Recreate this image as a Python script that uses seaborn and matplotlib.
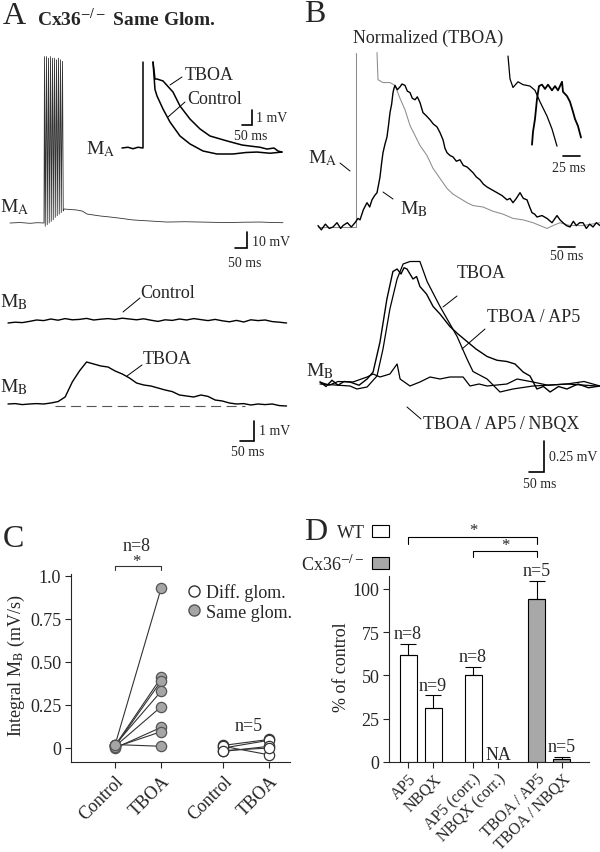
import numpy as np
import pandas as pd
import matplotlib
matplotlib.use('Agg')
import matplotlib.pyplot as plt
from matplotlib.lines import Line2D
from matplotlib.patches import Patch
import seaborn as sns

W, H = 600, 853

# ── A: M_A burst, ms / mV relative to rest ─────────────────────
a_pre = [(0, 0.0), (40, 0.3), (80, -0.2), (110, 0.2), (136, 0.0)]
a_spike_t = [138, 146, 154, 162, 170, 178, 186, 194, 202, 210]
a_spike_peak = [104, 104, 103, 104, 103, 103, 102, 103, 102, 101]
a_spike_trough = [-2, -1, 0, 1, 2, 3.5, 4.5, 5.5, 6.5, 7.5]
a_post = [(216, 8.75), (268, 8.1), (290, 7.4), (308, 5.6), (360, 4.4), (400, 3.75),
          (440, 3.0), (492, 1.9), (560, 1.25), (628, 0.6), (700, 0.8), (760, 0.6),
          (820, 0.4), (880, 0.3), (940, 0.5), (1000, 0.6), (1050, 0.3), (1092, 0.2)]

# ── A inset: M_A after-depolarisation (1 mV scale) ─────────────
a_ins_base = [(0, 0.0), (30, 0.05), (55, -0.05), (80, 0.05), (105, 0.0), (105, 5.73)]
a_ins_tboa = [(155, 5.73), (165, 4.6), (175, 4.6), (205, 4.47), (255, 3.73), (290, 2.8),
              (340, 1.93), (390, 1.27), (440, 0.8), (525, 0.47), (600, 0.2), (640, 0.13),
              (690, 0.05), (725, -0.07), (760, 0.0), (780, -0.2), (800, -0.27)]
a_ins_ctrl = [(155, 5.73), (165, 3.9), (175, 3.47), (205, 2.6), (240, 1.73), (290, 0.8),
              (340, 0.27), (405, -0.2), (475, -0.4), (555, -0.4), (620, -0.3),
              (675, -0.27), (740, -0.35), (800, -0.27)]

# ── A: M_B, sampled every 25 ms ─────────────────────────────────
a_mb_dt = 25
a_mb_ctrl = [-0.10, -0.06, -0.08, -0.02, 0.05, 0.02, 0.10, 0.04, 0.12, 0.06,
             0.08, 0.13, 0.05, 0.09, 0.12, 0.08, 0.14, 0.10, 0.06, 0.11,
             0.04, -0.02, 0.06, 0.03, 0.10, 0.05, 0.12, 0.07, 0.02, 0.08,
             0.01, -0.04, 0.03, -0.05, 0.06, 0.02, 0.05, -0.03, -0.06, -0.10]
a_mb_tboa = [0.0, 0.02, -0.03, 0.0, 0.02, 0.0, 0.05, 0.12, 0.35, 1.1,
             1.65, 2.1, 2.0, 1.9, 1.85, 1.65, 1.5, 1.3, 1.05, 0.95,
             0.9, 0.8, 0.7, 0.62, 0.45, 0.4, 0.35, 0.45, 0.38, 0.2,
             0.15, 0.05, 0.0, 0.02, -0.05, 0.0, -0.03, 0.0, -0.08, -0.1]
a_mb_dash = [165, 830]

# ── B: normalized traces (TBOA) ────────────────────────────────
b_ma_pre = [(0, 0.0), (114, 0.0), (114, 1.22)]
b_ma = [(177, 1.22), (180, 1.03), (195, 1.01), (216, 1.01), (231, 0.99), (246, 0.90),
        (261, 0.82), (276, 0.71), (291, 0.64), (306, 0.57), (327, 0.50), (345, 0.41),
        (366, 0.34), (387, 0.27), (405, 0.23), (426, 0.20), (447, 0.17), (465, 0.15),
        (495, 0.14), (525, 0.11), (555, 0.09), (585, 0.06), (615, 0.05), (645, 0.03),
        (666, 0.01), (687, -0.01), (705, 0.01), (726, 0.03), (756, 0.01), (795, 0.01),
        (846, 0.03)]
b_mb = [(0, 0.01), (10, -0.02), (22, 0.02), (34, -0.01), (45, 0.0), (57, 0.03),
        (68, -0.01), (75, 0.01), (88, 0.03), (100, 0.0), (111, 0.03), (120, 0.06),
        (126, 0.05), (136, 0.12), (147, 0.17), (155, 0.14), (162, 0.19), (170, 0.22),
        (177, 0.24), (182, 0.30), (186, 0.35), (191, 0.45), (195, 0.52), (201, 0.58),
        (207, 0.63), (212, 0.72), (216, 0.80), (221, 0.86), (225, 0.94), (228, 0.97),
        (231, 0.99), (238, 0.96), (246, 0.98), (252, 1.0), (261, 0.99), (268, 0.95),
        (276, 0.94), (283, 0.90), (291, 0.89), (298, 0.91), (306, 0.87), (311, 0.83),
        (315, 0.80), (324, 0.78), (336, 0.75), (346, 0.72), (357, 0.70), (366, 0.66),
        (375, 0.61), (381, 0.55), (387, 0.52), (396, 0.50), (405, 0.49), (415, 0.46),
        (426, 0.47), (436, 0.43), (447, 0.42), (456, 0.40), (465, 0.38), (475, 0.35),
        (486, 0.33), (496, 0.30), (507, 0.28), (522, 0.26), (537, 0.24), (552, 0.22),
        (567, 0.19), (576, 0.20), (585, 0.17), (595, 0.20), (606, 0.24), (616, 0.20),
        (627, 0.19), (635, 0.14), (642, 0.10), (650, 0.09), (657, 0.07), (672, 0.08),
        (687, 0.06), (702, 0.03), (717, 0.08), (726, 0.05), (735, 0.03), (745, 0.01),
        (756, 0.0), (766, 0.04), (775, 0.01), (785, 0.03), (795, 0.03), (805, -0.01),
        (815, 0.02), (825, 0.0), (835, 0.03), (846, 0.01)]
b_ins_ma = [(12, 0.72), (15, 0.56), (19.5, 0.50), (27, 0.54), (34.5, 0.52), (45, 0.51),
            (52.5, 0.48), (60, 0.40), (70.5, 0.30), (78, 0.21), (85.5, 0.09)]
b_ins_mb = [(48, 0.10), (49.5, 0.19), (52.5, 0.28), (55.5, 0.42), (58.5, 0.51), (63, 0.52),
            (67.5, 0.49), (72, 0.52), (78, 0.48), (82.5, 0.51), (87, 0.48), (93, 0.54),
            (94.5, 0.47), (100.5, 0.44), (105, 0.40), (109.5, 0.33), (112.5, 0.28),
            (117, 0.23), (121.5, 0.15)]

# ── B: M_B pharmacology, mV ────────────────────────────────────
b_tboa = [(0, 0.0), (100, -0.016), (123, -0.04), (157, -0.024), (190, 0.064), (210, 0.28),
          (233, 0.60), (257, 0.84), (277, 0.96), (300, 0.98), (333, 0.98), (357, 0.82),
          (400, 0.62), (457, 0.38), (490, 0.20), (510, 0.10), (557, 0.04), (600, -0.064),
          (643, -0.04), (710, -0.016), (823, 0.0), (923, -0.016)]
b_tboa_ap5 = [(0, 0.016), (20, -0.02), (40, 0.03), (60, -0.01), (80, 0.02), (100, 0.016),
              (130, -0.01), (157, 0.04), (177, 0.096), (200, 0.336), (223, 0.68),
              (243, 0.90), (257, 0.92), (270, 0.88), (280, 0.93), (290, 0.92), (310, 0.84),
              (322, 0.86), (333, 0.78), (355, 0.72), (377, 0.62), (400, 0.56), (433, 0.46),
              (460, 0.40), (490, 0.34), (520, 0.28), (557, 0.22), (590, 0.19), (623, 0.18),
              (650, 0.16), (667, 0.12), (677, 0.096), (700, 0.064), (723, -0.04),
              (745, -0.02), (767, -0.064), (795, -0.02), (823, -0.04), (860, 0.0),
              (895, -0.03), (933, -0.016)]
b_tboa_ap5_nbqx = [(0, 0.016), (30, -0.01), (60, 0.02), (110, 0.016), (157, 0.056),
                   (177, 0.08), (200, 0.056), (233, 0.08), (257, 0.16), (267, 0.04),
                   (300, -0.016), (333, 0.016), (367, 0.056), (400, 0.04), (433, 0.056),
                   (477, 0.056), (500, -0.016), (530, 0.0), (557, -0.016), (623, 0.0),
                   (657, 0.04), (710, 0.016), (760, -0.01), (823, 0.0), (880, 0.02),
                   (933, -0.016)]

# ── C: integral of M_B (mV/s) ──────────────────────────────────
c_conditions = ['Control', 'TBOA', 'Control', 'TBOA']
c_pos = [0, 1, 2.35, 3.35]
same_ctrl = [0.02, 0.015, 0.01, 0.02, 0.01, 0.0, 0.005, 0.02]
same_tboa = [0.93, 0.41, 0.39, 0.33, 0.24, 0.12, 0.095, 0.01]
diff_ctrl = [0.015, 0.0, -0.02, 0.01, -0.015]
diff_tboa = [0.05, 0.045, 0.01, -0.04, 0.0]

# ── D: % of control ────────────────────────────────────────────
d_labels = ['AP5', 'NBQX', 'AP5 (corr.)', 'NBQX (corr.)',
            'TBOA\u2009/\u2009AP5', 'TBOA\u2009/\u2009NBQX']
d_pos = [0, 1, 2.6, 3.6, 5.15, 6.15]
d_mean = [62, 31, 50, np.nan, 94.2, 1.7]
d_sem = [6, 7.5, 5, np.nan, 10.6, 1.2]
d_n = ['n=8', 'n=9', 'n=8', 'NA', 'n=5', 'n=5']
d_group = ['WT', 'WT', 'WT', 'WT', 'KO', 'KO']

sns.set_style('ticks')
plt.rcParams['font.family'] = ['Liberation Serif', 'DejaVu Serif']
plt.rcParams['mathtext.fontset'] = 'stix'
plt.rcParams['font.size'] = 13
plt.rcParams['axes.linewidth'] = 0.8

fig = plt.figure(figsize=(W / 100, H / 100), dpi=100)


def ftext(x, y, s, size=13, ha='left', va='center', **kw):
    fig.text(x / W, 1 - y / H, s, size=size, ha=ha, va=va, **kw)


def fline(x0, y0, x1, y1, lw=0.7):
    fig.add_artist(Line2D([x0 / W, x1 / W], [1 - y0 / H, 1 - y1 / H], color='black', lw=lw))


def overlay(ox, oy, ms_px, v_px):
    # full-figure axes whose (0 ms, 0) sits at pixel (ox, oy)
    ax = fig.add_axes([0, 0, 1, 1])
    ax.set_xlim(-ox * ms_px, (W - ox) * ms_px)
    ax.set_ylim(-(H - oy) * v_px, oy * v_px)
    ax.axis('off')
    return ax


def trace(ax, pts, color='black', lw=1.0, **kw):
    t, v = np.asarray(pts, dtype=float).T
    sns.lineplot(x=t, y=v, ax=ax, color=color, lw=lw, sort=False, estimator=None, **kw)


def scalebar(ax, x, y, dx, dy, lw=1.2):
    pts = [(x - dx, y), (x, y)] if dy == 0 else [(x - dx, y), (x, y), (x, y + dy)]
    t, v = np.asarray(pts, dtype=float).T
    ax.plot(t, v, color='black', lw=lw, solid_joinstyle='miter')


# ── Panel A ────────────────────────────────────────────────────
ax = overlay(10, 224, 4.0, 0.625)
burst = list(a_pre)
for t, pk, tr in zip(a_spike_t, a_spike_peak, a_spike_trough):
    burst += [(t, pk), (t + 3, tr)]
burst += a_post
trace(ax, burst, color='#333333', lw=0.6)
scalebar(ax, 948, -15.6, 50, 10)

ax = overlay(122, 149, 5.0, 1 / 15)
trace(ax, a_ins_base, lw=1.1)
trace(ax, a_ins_tboa, lw=1.1)
trace(ax, a_ins_ctrl, lw=1.1)
scalebar(ax, 650, 1.53, 50, 1)

ax = overlay(8, 322, 3.5, 0.05)
trace(ax, [(i * a_mb_dt, v) for i, v in enumerate(a_mb_ctrl)], lw=1.0)
ax = overlay(8, 405, 3.5, 0.05)
trace(ax, [(i * a_mb_dt, v) for i, v in enumerate(a_mb_tboa)], lw=1.0)
ax.plot(a_mb_dash, [-0.1, -0.1], color='#555555', lw=0.8, dashes=(9, 5))
scalebar(ax, 861, -1.85, 50, 1)

ftext(3, 17, 'A', size=23)
ftext(37, 19, r'Cx36$^{-/-}$ Same Glom.', size=14, weight='bold')
ftext(86, 149, r'M$_\mathrm{A}$', size=14)
ftext(185, 75, 'TBOA')
ftext(187, 99, 'Control')
fline(170, 86, 182, 78)
fline(168, 118, 185, 103)
ftext(256, 118, '1 mV', size=10)
ftext(251, 136, '50 ms', size=10, ha='center')
ftext(0, 207, r'M$_\mathrm{A}$', size=14)
ftext(252, 242, '10 mV', size=10)
ftext(245, 264, '50 ms', size=10, ha='center')
ftext(0, 302, r'M$_\mathrm{B}$', size=14)
ftext(140, 294, 'Control')
fline(123, 313, 140, 299)
ftext(0, 387, r'M$_\mathrm{B}$', size=14)
ftext(143, 359, 'TBOA')
fline(127, 377, 142, 366)
ftext(259, 432, '1 mV', size=10)
ftext(248, 453, '50 ms', size=10, ha='center')

# ── Panel B ────────────────────────────────────────────────────
ax = overlay(318, 228, 3.0, 1 / 143)
trace(ax, b_ma_pre, color='#8c8c8c', lw=0.75)
trace(ax, b_ma, color='#8c8c8c', lw=0.75)
trace(ax, b_mb, lw=1.0)
scalebar(ax, 770, -0.14, 50, 0)

ax = overlay(500, 160, 1.5, 1 / 143)
trace(ax, b_ins_ma, lw=0.9)
trace(ax, b_ins_mb, lw=1.3)
scalebar(ax, 120, 0.02, 25, 0)

ax = overlay(320, 385, 10 / 3, 0.008)
trace(ax, b_tboa, lw=0.9)
trace(ax, b_tboa_ap5, lw=1.0)
trace(ax, b_tboa_ap5_nbqx, lw=0.9)
scalebar(ax, 747, -0.704, 50, 0.25)

ftext(304, 15, 'B', size=23)
ftext(353, 38, 'Normalized (TBOA)')
ftext(308, 158, r'M$_\mathrm{A}$', size=14)
fline(340, 164, 350, 172)
ftext(400, 209, r'M$_\mathrm{B}$', size=14)
fline(383, 193, 393, 200)
ftext(569, 168, '25 ms', size=10, ha='center')
ftext(567, 257, '50 ms', size=10, ha='center')
ftext(457, 273, 'TBOA')
fline(443, 308, 457, 297)
ftext(487, 318, 'TBOA\u2009/\u2009AP5')
fline(462, 350, 485, 330)
ftext(306, 371, r'M$_\mathrm{B}$', size=14)
ftext(423, 425, 'TBOA\u2009/\u2009AP5\u2009/\u2009NBQX')
fline(407, 408, 421, 420)
ftext(549, 458, '0.25 mV', size=10)
ftext(540, 484, '50 ms', size=10, ha='center')

# ── Panel C ────────────────────────────────────────────────────
rows = []
for i, (c, t) in enumerate(zip(same_ctrl, same_tboa)):
    rows += [('same', f's{i}', c_pos[0], c), ('same', f's{i}', c_pos[1], t)]
for i, (c, t) in enumerate(zip(diff_ctrl, diff_tboa)):
    rows += [('diff', f'd{i}', c_pos[2], c), ('diff', f'd{i}', c_pos[3], t)]
df_c = pd.DataFrame(rows, columns=['glom', 'cell', 'pos', 'val'])

axC = fig.add_axes([71 / W, 1 - 763 / H, 219 / W, 188 / H])
sns.lineplot(data=df_c, x='pos', y='val', units='cell', estimator=None, sort=False,
             color='#333333', lw=0.8, ax=axC)
sns.scatterplot(data=df_c[df_c.glom == 'diff'], x='pos', y='val', color='white',
                edgecolor='#333333', linewidth=0.9, s=55, zorder=3, ax=axC)
sns.scatterplot(data=df_c[df_c.glom == 'same'], x='pos', y='val', color='#a5a5a5',
                edgecolor='#555555', linewidth=0.9, s=55, zorder=4, ax=axC)
axC.set_xlim(-0.96, 3.8)
axC.set_ylim(-0.0814, 1.0116)
sns.despine(ax=axC)
axC.set_yticks([0, 0.25, 0.5, 0.75, 1.0], ['0', '0.25', '0.50', '0.75', '1.0'])
axC.set_xticks(c_pos, c_conditions, rotation=45, ha='right', rotation_mode='anchor')
axC.tick_params(direction='out', length=4, width=0.8, labelsize=13, pad=3)
axC.set_xlabel('')
axC.set_ylabel(r'Integral M$_\mathrm{B}$ (mV/s)', size=13)
axC.yaxis.set_label_coords(-0.2, 0.52)
axC.plot([0, 0, 1, 1], [1.035, 1.06, 1.06, 1.035], color='#333333', lw=0.8, clip_on=False)
axC.text(0.46, 1.085, '*', ha='center', va='center', size=12)
axC.text(0.46, 1.18, 'n=8', ha='center', va='center', size=13)
axC.text(2.9, 0.13, 'n=5', ha='center', va='center', size=13)
c_handles = [Line2D([], [], marker='o', ls='', mfc='white', mec='#333333', ms=8),
             Line2D([], [], marker='o', ls='', mfc='#a5a5a5', mec='#555555', ms=8)]
axC.legend(c_handles, ['Diff. glom.', 'Same glom.'], frameon=False, loc='upper left',
           bbox_to_anchor=(174 / W, 1 - 575 / H), bbox_transform=fig.transFigure,
           borderpad=0, handletextpad=0.1, labelspacing=0.15, handlelength=1.2, fontsize=13)

ftext(3, 540, 'C', size=23)

# ── Panel D ────────────────────────────────────────────────────
df_d = pd.DataFrame({'pos': d_pos, 'mean': d_mean, 'sem': d_sem, 'group': d_group})
df_d_ok = df_d.dropna()
axD = fig.add_axes([389 / W, 1 - 763 / H, 200 / W, 186 / H])
for grp, fc in [('WT', 'white'), ('KO', '#a8a8a8')]:
    sub = df_d_ok[df_d_ok.group == grp]
    sns.barplot(x=sub['pos'].to_numpy(), y=sub['mean'].to_numpy(), native_scale=True,
                width=0.68, color=fc, saturation=1, edgecolor='black', linewidth=0.8,
                errorbar=None, ax=axD)
axD.errorbar(df_d_ok['pos'], df_d_ok['mean'], yerr=[np.zeros(len(df_d_ok)), df_d_ok['sem']],
             fmt='none', ecolor='black', elinewidth=0.8, capsize=6, capthick=0.8)
for p, m, s, n in zip(d_pos, d_mean, d_sem, d_n):
    if np.isnan(m):
        axD.text(p, 4.6, n, ha='center', va='center', size=13)
    else:
        axD.text(p, m + s + 6, n, ha='center', va='center', size=13, clip_on=False)
axD.set_xlim(-0.76, 7.24)
axD.set_ylim(0, 107.5)
sns.despine(ax=axD)
axD.set_yticks([0, 25, 50, 75, 100])
axD.set_xticks(d_pos, d_labels, rotation=45, ha='right', rotation_mode='anchor')
axD.tick_params(direction='out', length=4, width=0.8, labelsize=13, pad=3)
axD.tick_params(axis='x', labelsize=11.5, pad=2)
axD.set_xlabel('')
axD.set_ylabel('% of control', size=13)
axD.yaxis.set_label_coords(-0.195, 0.516)
axD.plot([0, 0, 5.15, 5.15], [126, 130, 130, 126], color='black', lw=0.8, clip_on=False)
axD.plot([2.6, 2.6, 5.15, 5.15], [118.5, 122, 122, 118.5], color='black', lw=0.8, clip_on=False)
axD.text(2.6, 134, '*', ha='center', va='center', size=12)
axD.text(3.9, 125.5, '*', ha='center', va='center', size=12)
d_handles = [Patch(facecolor='white', edgecolor='black', lw=0.8),
             Patch(facecolor='#a8a8a8', edgecolor='black', lw=0.8)]
axD.legend(d_handles, ['WT', r'Cx36$^{-/-}$'], frameon=False, loc='upper right',
           bbox_to_anchor=(398 / W, 1 - 516 / H), bbox_transform=fig.transFigure,
           markerfirst=False, borderpad=0, handletextpad=0.4, labelspacing=0.7,
           handlelength=0.95, handleheight=0.65, fontsize=13)

ftext(304, 533, 'D', size=23)

fig.savefig('out.png', dpi=100)
